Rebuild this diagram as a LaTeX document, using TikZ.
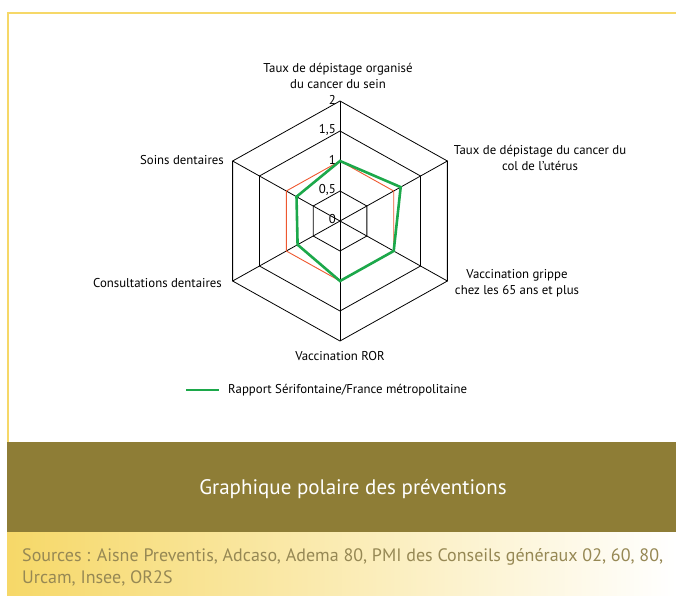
\documentclass[tikz,border=0pt]{standalone}
\usepackage{fontspec}
\setmainfont{PT Sans}
\usetikzlibrary{positioning,calc}

\definecolor{frameyellow}{RGB}{246,216,104}
\definecolor{bandolive}{RGB}{142,125,54}
\definecolor{srcgrey}{RGB}{150,136,84}
\definecolor{refred}{RGB}{238,88,48}
\definecolor{datagreen}{RGB}{28,168,74}

\begin{document}
\begin{tikzpicture}[x=1pt,y=1pt,yscale=-1,xscale=1,
  gridline/.style={draw=black,line width=0.8pt},
  refline/.style={draw=refred,line width=0.9pt},
  dataline/.style={draw=datagreen,line width=2.6pt,line join=miter},
  axislbl/.style={font=\fontsize{12.8}{16}\selectfont,align=center,inner sep=0pt},
  ticklbl/.style={font=\fontsize{12.8}{14}\selectfont,anchor=east,inner sep=1pt}]
\useasboundingbox (0,0) rectangle (676,595);

%Shape: Frame
\draw[frameyellow,line width=2pt] (690,13) -- (8,13) -- (8,442);
%Shape: Band
\fill[bandolive] (7,442) rectangle (676,532);
%Shape: Sources strip
\shade[left color=frameyellow,right color=white] (7,532) rectangle (676,595);

% radar axes
\coordinate (O) at (340,221);
\foreach \a [count=\i] in {90,30,-30,-90,-150,150}
  \coordinate (v\i) at ({340+124*cos(\a)},{221-120*sin(\a)});
\foreach \i in {1,...,6}
  \draw[gridline] (O) -- (v\i);
%Shape: Rings
\foreach \r in {0.25,0.75,1}
  \draw[gridline] ($(O)!\r!(v1)$) -- ($(O)!\r!(v2)$) -- ($(O)!\r!(v3)$) -- ($(O)!\r!(v4)$) -- ($(O)!\r!(v5)$) -- ($(O)!\r!(v6)$) -- cycle;
%Shape: France = 1
\draw[refline] ($(O)!0.5!(v1)$) -- ($(O)!0.5!(v2)$) -- ($(O)!0.5!(v3)$) -- ($(O)!0.5!(v4)$) -- ($(O)!0.5!(v5)$) -- ($(O)!0.5!(v6)$) -- cycle;
%Shape: Serifontaine
\draw[dataline] ($(O)!0.5!(v1)$) -- ($(O)!0.565!(v2)$) -- ($(O)!0.5!(v3)$) -- ($(O)!0.5!(v4)$) -- ($(O)!0.395!(v5)$) -- ($(O)!0.405!(v6)$) -- cycle;

% Text Node
\foreach \f/\t [count=\i] in {0/0,0.25/{0,5},0.5/1,0.75/{1,5},1/2}
  \node[ticklbl] (tick\i) at ($(O)!\f!(v1)+(-3,-1.5)$) {\t};

% Text Node
\node[axislbl] (sein) at (338,76) {Taux de dépistage organisé\\du cancer du sein};
% Text Node
\node[axislbl] (uterus) at (540,158) {Taux de dépistage du cancer du\\col de l'utérus};
% Text Node
\node[axislbl] (grippe) at (517,283) {Vaccination grippe\\chez les 65 ans et plus};
% Text Node
\node[axislbl] (ror) at (340,356) {Vaccination ROR};
% Text Node
\node[axislbl,anchor=east] (consult) at (222,283) {Consultations dentaires};
% Text Node
\node[axislbl,anchor=east] (soins) at (224,160) {Soins dentaires};

% legend
\coordinate (lgA) at (186,390);
\coordinate (lgB) at (219,390);
\draw[dataline,line width=2.2pt] (lgA) -- (lgB);
\node[axislbl,right=9pt of lgB] (legend) {Rapport Sérifontaine/France métropolitaine};

% Text Node
\node[text=white,font=\fontsize{21}{24}\selectfont] (title) at (353,489) {Graphique polaire des préventions};
% Text Node
\node[anchor=west,align=left,text=srcgrey,font=\fontsize{18}{22}\selectfont,inner sep=0pt] (sources) at (22,567) {Sources : Aisne Preventis, Adcaso, Adema 80, PMI des Conseils généraux 02, 60, 80,\\Urcam, Insee, OR2S};

\end{tikzpicture}
\end{document}
